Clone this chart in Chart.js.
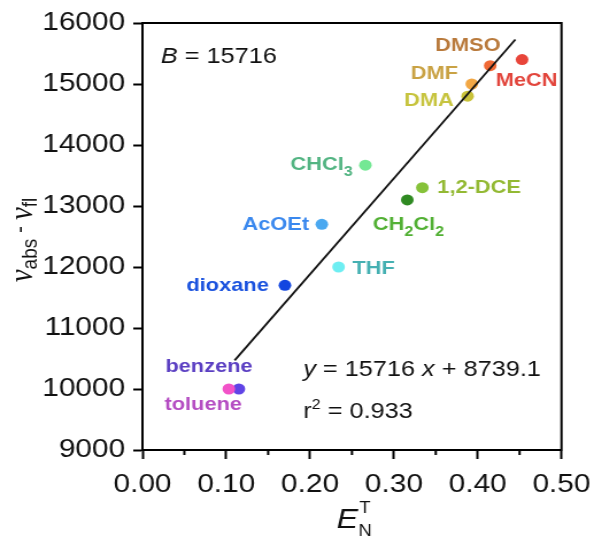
<!DOCTYPE html>
<html>
<head>
<meta charset="utf-8">
<script src="https://cdn.jsdelivr.net/npm/chart.js@4/dist/chart.umd.min.js"></script>
<style>
  body { margin: 0; background: #fff; overflow: hidden; }
  /* the source figure is stretched sideways, so the canvas is too */
  #wrap { width: 524px; height: 542px; transform: scaleX(1.1489); transform-origin: 0 0; }
</style>
</head>
<body>
<div id="wrap"><canvas id="myChart" width="524" height="542"></canvas></div>
<script>
// solvent polarity data
var solvents = ["DMSO", "MeCN", "DMF", "DMA", "CHCl_3", "1,2-DCE", "CH_2Cl_2", "AcOEt", "THF", "dioxane", "benzene", "toluene"];
var etN = [0.415, 0.453, 0.393, 0.388, 0.266, 0.334, 0.316, 0.214, 0.234, 0.170, 0.115, 0.103];
var deltaNu = [15300, 15400, 15000, 14800, 13670, 13300, 13100, 12700, 12000, 11700, 10000, 10000];
// fit line end points
var fitX = [0.11, 0.445];
var fitY = [10470, 15730];
var xTicks = [0, 0.1, 0.2, 0.3, 0.4, 0.5];
var yTicks = [9000, 10000, 11000, 12000, 13000, 14000, 15000, 16000];

var pointColors = ["#f06a36", "#e8453a", "#f2a744", "#c9c23a", "#74e894", "#86c23a", "#2f8a22", "#4aa8f0", "#6eeef2", "#1246e0", "#6044e6", "#f252c8"];
var labelColors = ["#b97a3c", "#e2453c", "#c9a244", "#c7c43f", "#52b482", "#93b933", "#52b034", "#3a88ee", "#45b0b2", "#1a52de", "#5a3ec2", "#b44cc2"];
// label placement relative to the point: [dx, dy, align]
var labelPos = [
  [9, -20, "right"], [-23, 21, "left"], [-12, -10, "right"], [-12, 5, "right"],
  [-11, 0, "right"], [13, 0, "left"], [-30, 25, "left"], [-11, 0, "right"],
  [12, 2, "left"], [-14, 0, "right"], [-64, -22, "left"], [-56, 16, "left"]
];

var FONT = "'Liberation Sans', Arial, sans-serif";

function parseLabel(s) {
  var segs = [];
  var i = 0, cur = "";
  while (i < s.length) {
    if (s[i] === "_") {
      if (cur) segs.push([cur, false]);
      cur = "";
      segs.push([s[i + 1], true]);
      i += 2;
    } else {
      cur += s[i];
      i++;
    }
  }
  if (cur) segs.push([cur, false]);
  return segs;
}

function drawSegs(ctx, segs, x, y, align, size, subSize, subDrop, weight) {
  var w = 0;
  segs.forEach(function (sg) {
    ctx.font = weight + " " + (sg[1] ? subSize : size) + "px " + FONT;
    w += ctx.measureText(sg[0]).width;
  });
  var cx = align === "right" ? x - w : x;
  ctx.textAlign = "left";
  ctx.textBaseline = "middle";
  segs.forEach(function (sg) {
    ctx.font = weight + " " + (sg[1] ? subSize : size) + "px " + FONT;
    ctx.fillText(sg[0], cx, sg[1] ? y + subDrop : y);
    cx += ctx.measureText(sg[0]).width;
  });
}

var decorPlugin = {
  id: "decor",
  afterDatasetsDraw: function (chart) {
    var ctx = chart.ctx;
    var a = chart.chartArea;
    var xs = chart.scales.x;
    ctx.save();
    // frame
    ctx.strokeStyle = "#000";
    ctx.lineWidth = 2;
    ctx.strokeRect(a.left, a.top, a.right - a.left, a.bottom - a.top);
    // minor ticks on x
    for (var i = 0; i < xTicks.length - 1; i++) {
      var px = xs.getPixelForValue((xTicks[i] + xTicks[i + 1]) / 2);
      ctx.beginPath();
      ctx.moveTo(px, a.bottom);
      ctx.lineTo(px, a.bottom + 5);
      ctx.stroke();
    }
    // point labels
    var meta = chart.getDatasetMeta(1);
    for (var j = 0; j < solvents.length; j++) {
      var p = meta.data[j];
      ctx.fillStyle = labelColors[j];
      drawSegs(ctx, parseLabel(solvents[j]), p.x + labelPos[j][0], p.y + labelPos[j][1], labelPos[j][2], 19, 14, 7, "bold");
    }
    // annotations
    ctx.fillStyle = "#111";
    ctx.textBaseline = "middle";
    ctx.textAlign = "left";
    ctx.font = "italic 22px " + FONT;
    ctx.fillText("B", a.left + 16, a.top + 34);
    var bw = ctx.measureText("B").width;
    ctx.font = "22px " + FONT;
    ctx.fillText(" = 15716", a.left + 16 + bw, a.top + 34);

    var ex = a.left + 140, ey = a.top + 347;
    ctx.font = "italic 22px " + FONT;
    ctx.fillText("y", ex, ey);
    ex += ctx.measureText("y").width;
    ctx.font = "22px " + FONT;
    ctx.fillText(" = 15716 ", ex, ey);
    ex += ctx.measureText(" = 15716 ").width;
    ctx.font = "italic 22px " + FONT;
    ctx.fillText("x", ex, ey);
    ex += ctx.measureText("x").width;
    ctx.font = "22px " + FONT;
    ctx.fillText(" + 8739.1", ex, ey);

    var rx = a.left + 140, ry = a.top + 389;
    ctx.fillText("r", rx, ry);
    rx += ctx.measureText("r").width;
    ctx.font = "14px " + FONT;
    ctx.fillText("2", rx, ry - 7);
    rx += ctx.measureText("2").width;
    ctx.font = "22px " + FONT;
    ctx.fillText(" = 0.933", rx, ry);

    // x axis title  E_N^T
    ctx.fillStyle = "#111";
    ctx.font = "italic 28px " + FONT;
    var tx = 293, ty = 520;
    ctx.fillText("E", tx, ty);
    tx += ctx.measureText("E").width + 6;
    ctx.font = "16px " + FONT;
    ctx.textAlign = "center";
    ctx.fillText("T", tx, ty - 11);
    ctx.fillText("N", tx, ty + 12);

    // y axis title  ν_abs - ν_fl
    ctx.translate(22, 240);
    ctx.rotate(-Math.PI / 2);
    var parts = [["ν", "italic 29px 'Liberation Serif', serif", 0], ["abs", "19px " + FONT, 7], [" - ", "21px " + FONT, -2], ["ν", "italic 29px 'Liberation Serif', serif", 0], ["fl", "19px " + FONT, 7]];
    var tw = 0;
    parts.forEach(function (pt) { ctx.font = pt[1]; tw += ctx.measureText(pt[0]).width; });
    var cx = -tw / 2;
    ctx.textAlign = "left";
    parts.forEach(function (pt) {
      ctx.font = pt[1];
      ctx.fillText(pt[0], cx, pt[2] - 2);
      cx += ctx.measureText(pt[0]).width;
    });
    ctx.restore();
  }
};

var scatterData = etN.map(function (x, i) { return { x: x, y: deltaNu[i] }; });
var lineData = fitX.map(function (x, i) { return { x: x, y: fitY[i] }; });

var ctx = document.getElementById("myChart");
var myChart = new Chart(ctx, {
  type: "scatter",
  data: {
    datasets: [{
      type: "line",
      data: lineData,
      borderColor: "#111",
      borderWidth: 1.8,
      pointRadius: 0,
      fill: false
    },
    {
      data: scatterData,
      backgroundColor: pointColors,
      borderWidth: 0,
      pointRadius: 5.5
    }]
  },
  options: {
    responsive: false,
    animation: false,
    layout: { padding: { left: 0, top: 23, right: 28, bottom: 0 } },
    plugins: { legend: { display: false }, tooltip: { enabled: false } },
    scales: {
      x: {
        type: "linear",
        min: 0,
        max: 0.5,
        afterFit: function (s) { s.height = 92; },
        afterBuildTicks: function (s) { s.ticks = xTicks.map(function (v) { return { value: v }; }); },
        ticks: {
          color: "#111",
          font: { size: 26, family: FONT },
          padding: 10,
          maxRotation: 0,
          callback: function (v) { return v.toFixed(2); }
        },
        grid: { drawOnChartArea: false, drawTicks: true, tickLength: 9, tickWidth: 2, tickColor: "#000" },
        border: { display: true, color: "#000", width: 2 }
      },
      y: {
        type: "linear",
        min: 9000,
        max: 16000,
        afterFit: function (s) { s.width = 124; },
        afterBuildTicks: function (s) { s.ticks = yTicks.map(function (v) { return { value: v }; }); },
        ticks: {
          color: "#111",
          font: { size: 26, family: FONT },
          padding: 7,
          callback: function (v) { return String(v); }
        },
        grid: { drawOnChartArea: false, drawTicks: true, tickLength: 8, tickWidth: 2, tickColor: "#000" },
        border: { display: true, color: "#000", width: 2 }
      }
    }
  },
  plugins: [decorPlugin]
});
</script>
</body>
</html>
